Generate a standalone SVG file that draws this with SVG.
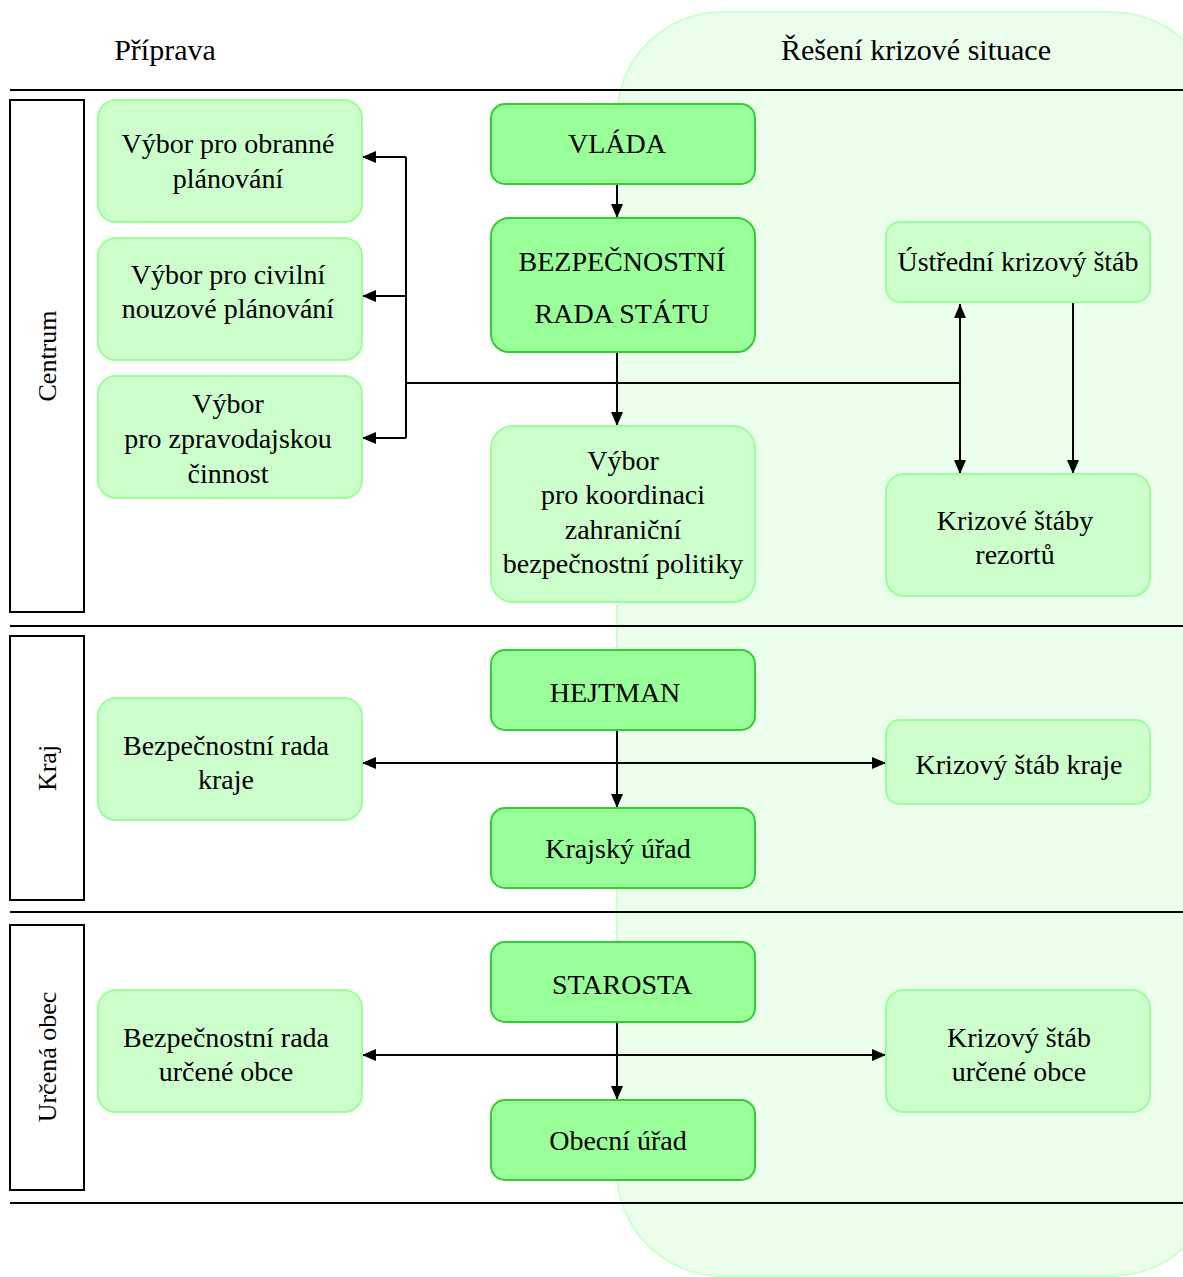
<svg xmlns="http://www.w3.org/2000/svg" width="1183" height="1277" viewBox="0 0 1183 1277">
<defs>
<marker id="ah" viewBox="0 0 14 12" refX="14" refY="6" markerWidth="14" markerHeight="12" markerUnits="userSpaceOnUse" orient="auto-start-reverse">
<path d="M0,0 L14,6 L0,12 Z" fill="#000"/>
</marker>
<style>
text{font-family:'Liberation Serif','Times New Roman',Times,serif;font-size:28px;fill:#000;text-anchor:middle}
.hdr{font-size:30px}
.ln{font-size:26px}
.light{fill:#ccffcc;stroke:#99ff99;stroke-width:2}
.dark{fill:#99ff99;stroke:#33cc33;stroke-width:2}
.lane{fill:#fff;stroke:#000;stroke-width:2}
.sep{stroke:#000;stroke-width:2}
.c{fill:none;stroke:#000;stroke-width:2}
.ca{fill:none;stroke:#000;stroke-width:2;marker-end:url(#ah)}
.cb{fill:none;stroke:#000;stroke-width:2;marker-end:url(#ah);marker-start:url(#ah)}
</style>
</defs>
<rect width="1183" height="1277" fill="#fff"/>
<rect x="617" y="12" width="600" height="1264" rx="105" ry="105" fill="#ebfdeb" stroke="#ccffcc" stroke-width="2"/>
<text class="hdr" x="165" y="60">Příprava</text>
<text class="hdr" x="916" y="60">Řešení krizové situace</text>
<g id="separators">
<line class="sep" x1="10" y1="90" x2="1183" y2="90"/>
<line class="sep" x1="10" y1="626" x2="1183" y2="626"/>
<line class="sep" x1="10" y1="912" x2="1183" y2="912"/>
<line class="sep" x1="10" y1="1203" x2="1183" y2="1203"/>
</g>
<g id="lane-centrum"><rect class="lane" x="10" y="100" width="74" height="512"/><text class="ln" transform="translate(56,356) rotate(-90)">Centrum</text></g>
<g id="lane-kraj"><rect class="lane" x="10" y="636" width="74" height="264"/><text class="ln" transform="translate(56,768) rotate(-90)">Kraj</text></g>
<g id="lane-obec"><rect class="lane" x="10" y="925" width="74" height="265"/><text class="ln" transform="translate(56,1057) rotate(-90)">Určená obec</text></g>
<g id="connectors">
<line class="ca" x1="617" y1="184" x2="617" y2="218"/>
<line class="ca" x1="617" y1="352" x2="617" y2="426"/>
<line class="c" x1="406" y1="383" x2="960" y2="383"/>
<line class="c" x1="406" y1="157" x2="406" y2="438"/>
<line class="ca" x1="406" y1="157" x2="362" y2="157"/>
<line class="ca" x1="406" y1="296" x2="362" y2="296"/>
<line class="ca" x1="406" y1="438" x2="362" y2="438"/>
<line class="cb" x1="960" y1="304" x2="960" y2="474"/>
<line class="ca" x1="1073" y1="302" x2="1073" y2="474"/>
<line class="ca" x1="617" y1="730" x2="617" y2="808"/>
<line class="cb" x1="362" y1="763" x2="886" y2="763"/>
<line class="ca" x1="617" y1="1022" x2="617" y2="1100"/>
<line class="cb" x1="362" y1="1055" x2="886" y2="1055"/>
</g>
<g id="vybor-obranne"><rect class="light" x="98" y="100" width="264" height="122" rx="18"/><text x="228" y="153">Výbor pro obranné</text><text x="228" y="188">plánování</text></g>
<g id="vybor-civilni"><rect class="light" x="98" y="238" width="264" height="122" rx="18"/><text x="228" y="284">Výbor pro civilní</text><text x="228" y="318">nouzové plánování</text></g>
<g id="vybor-zpravodajska"><rect class="light" x="98" y="376" width="264" height="122" rx="18"/><text x="228" y="413">Výbor</text><text x="228" y="448">pro zpravodajskou</text><text x="228" y="483">činnost</text></g>
<g id="vlada"><rect class="dark" x="491" y="104" width="264" height="80" rx="14"/><text x="617" y="153">VLÁDA</text></g>
<g id="brs"><rect class="dark" x="491" y="218" width="264" height="134" rx="18"/><text x="622" y="271">BEZPEČNOSTNÍ</text><text x="622" y="323">RADA STÁTU</text></g>
<g id="vybor-koordinace"><rect class="light" x="491" y="426" width="264" height="176" rx="22"/><text x="623" y="470">Výbor</text><text x="623" y="504">pro koordinaci</text><text x="623" y="539">zahraniční</text><text x="623" y="573">bezpečnostní politiky</text></g>
<g id="ustredni"><rect class="light" x="886" y="222" width="264" height="80" rx="14"/><text x="1018" y="271">Ústřední krizový štáb</text></g>
<g id="staby-rezortu"><rect class="light" x="886" y="474" width="264" height="122" rx="18"/><text x="1015" y="530">Krizové štáby</text><text x="1015" y="564">rezortů</text></g>
<g id="hejtman"><rect class="dark" x="491" y="650" width="264" height="80" rx="14"/><text x="615" y="702">HEJTMAN</text></g>
<g id="br-kraje"><rect class="light" x="98" y="698" width="264" height="122" rx="18"/><text x="226" y="755">Bezpečnostní rada</text><text x="226" y="789">kraje</text></g>
<g id="ks-kraje"><rect class="light" x="886" y="720" width="264" height="84" rx="14"/><text x="1019" y="774">Krizový štáb kraje</text></g>
<g id="krajsky-urad"><rect class="dark" x="491" y="808" width="264" height="80" rx="14"/><text x="618" y="858">Krajský úřad</text></g>
<g id="starosta"><rect class="dark" x="491" y="942" width="264" height="80" rx="14"/><text x="622" y="994">STAROSTA</text></g>
<g id="br-obce"><rect class="light" x="98" y="990" width="264" height="122" rx="18"/><text x="226" y="1047">Bezpečnostní rada</text><text x="226" y="1081">určené obce</text></g>
<g id="ks-obce"><rect class="light" x="886" y="990" width="264" height="122" rx="18"/><text x="1019" y="1047">Krizový štáb</text><text x="1019" y="1081">určené obce</text></g>
<g id="obecni-urad"><rect class="dark" x="491" y="1100" width="264" height="80" rx="14"/><text x="618" y="1150">Obecní úřad</text></g>
</svg>
